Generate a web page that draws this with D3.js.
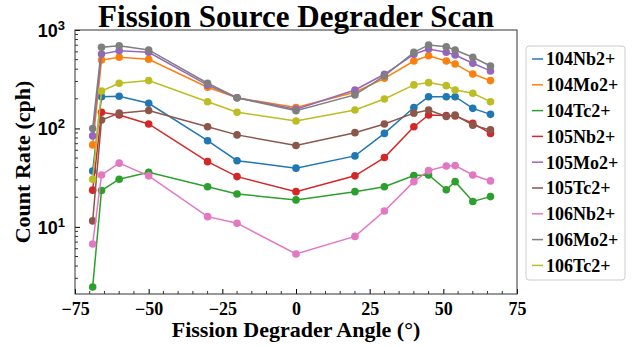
<!DOCTYPE html>
<html>
<head>
<meta charset="utf-8">
<script src="https://cdn.jsdelivr.net/npm/d3@7"></script>
<style>
  body { margin: 0; background: #fff; }
  svg { display: block; font-family: "Liberation Serif", "Times New Roman", serif; font-weight: bold; }
</style>
</head>
<body>
<svg id="chart" width="636" height="347"></svg>
<script>
const angles = [-69, -66, -60, -50, -30, -20, 0, 20, 30, 40, 45, 51, 54, 60, 66];

const seriesNames = ["104Nb2+", "104Mo2+", "104Tc2+", "105Nb2+", "105Mo2+", "105Tc2+", "106Nb2+", "106Mo2+", "106Tc2+"];
const colors = ["#1f77b4", "#ff7f0e", "#2ca02c", "#d62728", "#9467bd", "#8c564b", "#e377c2", "#7f7f7f", "#bcbd22"];

const nb104 = [37, 210, 212, 180, 75, 47, 39.5, 52.6, 89, 163, 210, 210, 210, 160, 139];
const mo104 = [68, 495, 528, 505, 262, 205, 163, 233, 323, 484, 548, 484, 452, 357, 306];
const tc104 = [2.45, 23.4, 30.5, 35.9, 25.6, 21.6, 18.8, 22.8, 25.6, 33.2, 33.7, 23.8, 28.8, 18.1, 20.3];
const nb105 = [23.6, 146, 137, 111, 46, 32.4, 22.8, 33, 50.6, 104, 137, 135, 134, 113, 89];
const mo105 = [84, 570, 617, 594, 275, 205, 157, 246, 355, 567, 641, 594, 557, 459, 384];
const tc105 = [11.5, 122, 143, 152, 104, 86, 67, 90.6, 111, 143, 154, 132, 137, 108, 96.6];
const nb106 = [6.7, 33.7, 44.4, 33, 12.7, 10.9, 5.3, 8.0, 14.5, 28.8, 37.3, 41.6, 41.9, 33.7, 29.3];
const mo106 = [100, 667, 693, 627, 288, 205, 151, 219, 341, 594, 705, 676, 627, 528, 431];
const tc106 = [30.5, 240, 288, 306, 187, 146, 119, 154, 199, 277, 292, 272, 246, 228, 187];

const seriesValues = [nb104, mo104, tc104, nb105, mo105, tc105, nb106, mo106, tc106];

const xTicks = [-75, -50, -25, 0, 25, 50, 75];
const yTicks = [10, 100, 1000];

const margin = { left: 75, right: 119, top: 30, bottom: 53 };
const width = 636, height = 347;

const svg = d3.select("#chart");

const x = d3.scaleLinear().domain([-75, 75]).range([margin.left, width - margin.right]);
const y = d3.scaleLog().domain([2.08, 1000]).range([height - margin.bottom, margin.top]);

// minor ticks
const xMinor = d3.range(-75, 76, 5).filter(d => d % 25 !== 0);
const yMinor = [];
[1, 10, 100].forEach(b => { for (let k = 2; k <= 9; k++) { const v = b * k; if (v >= 2.08 && v <= 1000) yMinor.push(v); } });

const gx = svg.append("g").attr("transform", `translate(0,${height - margin.bottom})`);
gx.call(d3.axisBottom(x).tickValues(xTicks).tickSizeInner(-5).tickSizeOuter(0).tickPadding(8)
    .tickFormat(d => d < 0 ? "\u2212" + Math.abs(d) : d));
gx.append("g").selectAll("line").data(xMinor).join("line")
  .attr("x1", d => x(d)).attr("x2", d => x(d)).attr("y1", 0).attr("y2", -3)
  .attr("stroke", "#000").attr("stroke-width", 0.8);
gx.selectAll(".tick text").attr("font-size", 18).attr("font-family", "Liberation Serif").attr("font-weight", "bold").attr("fill", "#000");

const gy = svg.append("g").attr("transform", `translate(${margin.left},0)`);
gy.call(d3.axisLeft(y).tickValues(yTicks).tickSizeInner(-5).tickSizeOuter(0).tickPadding(8).tickFormat(""));
gy.append("g").selectAll("line").data(yMinor).join("line")
  .attr("x1", 0).attr("x2", 3).attr("y1", d => y(d)).attr("y2", d => y(d))
  .attr("stroke", "#000").attr("stroke-width", 0.8);
gy.selectAll(".tick").each(function(d) {
  const t = d3.select(this).append("text").attr("x", -10).attr("dy", "0.35em")
    .attr("text-anchor", "end").attr("fill", "#000").attr("font-size", 18);
  t.append("tspan").text("10");
  t.append("tspan").attr("dy", "-0.55em").attr("font-size", 13).text(Math.round(Math.log10(d)));
});
svg.selectAll(".domain").remove();

// frame
svg.append("rect")
  .attr("x", margin.left).attr("y", margin.top)
  .attr("width", width - margin.left - margin.right)
  .attr("height", height - margin.top - margin.bottom)
  .attr("fill", "none").attr("stroke", "#333").attr("stroke-width", 1);

const line = d3.line().x((d, i) => x(angles[i])).y(d => y(d));

seriesValues.forEach((vals, s) => {
  const g = svg.append("g");
  g.append("path").datum(vals).attr("d", line)
    .attr("fill", "none").attr("stroke", colors[s]).attr("stroke-width", 1.5);
  g.selectAll("circle").data(vals).join("circle")
    .attr("cx", (d, i) => x(angles[i])).attr("cy", d => y(d)).attr("r", 3.8)
    .attr("fill", colors[s]);
});

// title and axis labels
svg.append("text").attr("x", x(0)).attr("y", 27).attr("text-anchor", "middle")
  .attr("font-size", 31).attr("fill", "#000").text("Fission Source Degrader Scan");
svg.append("text").attr("x", x(0)).attr("y", 337).attr("text-anchor", "middle")
  .attr("font-size", 22).attr("fill", "#000").text("Fission Degrader Angle (°)");
svg.append("text").attr("transform", `translate(30,${(margin.top + height - margin.bottom) / 2}) rotate(-90)`)
  .attr("text-anchor", "middle").attr("font-size", 22).attr("fill", "#000").text("Count Rate (cph)");

// legend
const lg = svg.append("g");
lg.append("rect").attr("x", 526).attr("y", 46).attr("width", 99).attr("height", 234)
  .attr("rx", 3).attr("fill", "#fff").attr("stroke", "#ccc").attr("stroke-width", 1);
seriesNames.forEach((name, i) => {
  const yy = 59 + i * 25.8;
  lg.append("line").attr("x1", 532).attr("x2", 543).attr("y1", yy).attr("y2", yy)
    .attr("stroke", colors[i]).attr("stroke-width", 1.5);
  lg.append("text").attr("x", 546).attr("y", yy).attr("dy", "0.35em")
    .attr("font-size", 18).attr("fill", "#000").text(name);
});
</script>
</body>
</html>
